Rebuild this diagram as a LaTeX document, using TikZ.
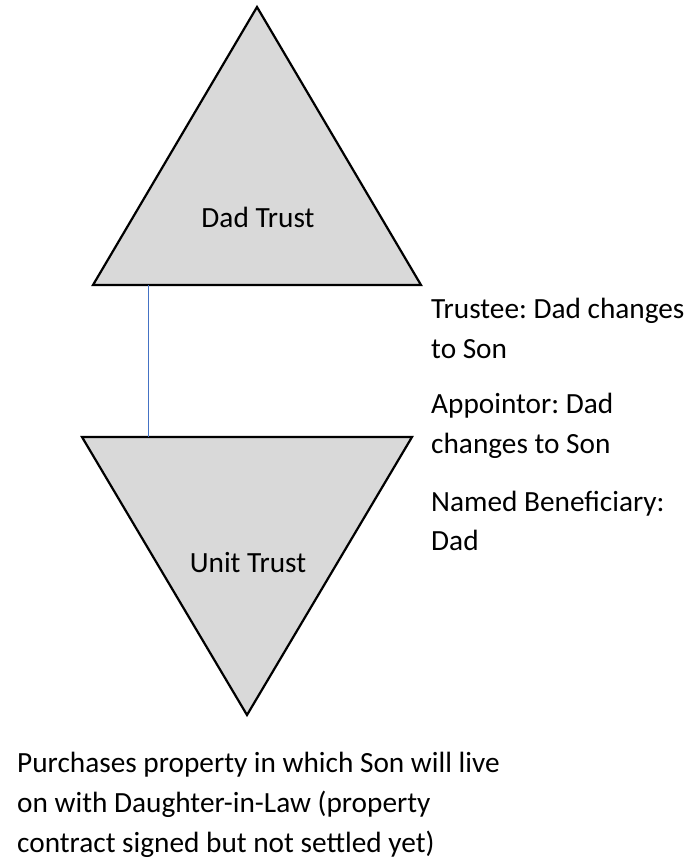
\documentclass[tikz,border=0pt]{standalone}
\usepackage{fontspec}
\setmainfont{Carlito}
\frenchspacing
\definecolor{trustfill}{HTML}{D9D9D9}
\definecolor{linkblue}{HTML}{4472C4}
\tikzset{
  trustshape/.style={draw=black, fill=trustfill, line width=2.2pt, line join=miter},
  link/.style={draw=linkblue, line width=0.8pt},
  label/.style={inner sep=0pt, anchor=base west, font=\fontsize{29.3}{39.5}\selectfont},
  title/.style={inner sep=0pt, anchor=base, font=\fontsize{29.3}{39.5}\selectfont}
}
\begin{document}
\begin{tikzpicture}[x=1pt, y=-1pt]
  \useasboundingbox (0,0) rectangle (694,862);

  % Dad Trust: upward triangle
  \coordinate (dadtop) at (257,7);
  \coordinate (dadleft) at (93,285);
  \coordinate (dadright) at (421,285);
  \path[trustshape] (dadtop) -- (dadright) -- (dadleft) -- cycle;
  \node[title] (dadtrust) at (258,227) {Dad Trust};

  % Unit Trust: downward triangle
  \coordinate (unitleft) at (82,437);
  \coordinate (unitright) at (412,437);
  \coordinate (unitbottom) at (247,715);
  \path[trustshape] (unitleft) -- (unitright) -- (unitbottom) -- cycle;
  \node[title] (unittrust) at (248,572) {Unit Trust};

  % link between the two trusts
  \coordinate (linktop) at (148,285);
  \coordinate (linkbottom) at (148,437);
  \draw[link] (linktop) -- (linkbottom);

  % roles
  \node[label] (trustee1) at (431,318) {Trustee: Dad changes};
  \node[label] (trustee2) at (431,358) {to Son};
  \node[label] (appointor1) at (431,413) {Appointor: Dad};
  \node[label] (appointor2) at (431,453) {changes to Son};
  \node[label] (beneficiary1) at (431,511) {Named Beneficiary:};
  \node[label] (beneficiary2) at (431,550) {Dad};

  % property purchase
  \node[label] (purchase1) at (17,772) {Purchases property in which Son will live};
  \node[label] (purchase2) at (17,812) {on with Daughter-in-Law (property};
  \node[label] (purchase3) at (17,852) {contract signed but not settled yet)};
\end{tikzpicture}
\end{document}
